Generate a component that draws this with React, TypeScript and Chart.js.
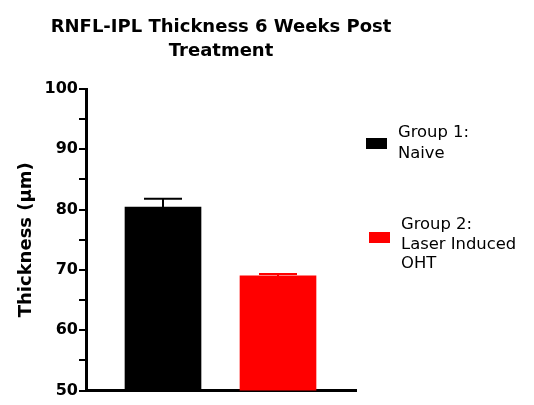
import React, { useEffect, useRef } from "react";
import { Chart, registerables } from "chart.js";

Chart.register(...registerables);

const titleLines = ["RNFL-IPL Thickness 6 Weeks Post", "Treatment"];
const categories = ["Group 1: Naive", "Group 2: Laser Induced OHT"];
const legendLines = [["Group 1:", "Naive"], ["Group 2:", "Laser Induced", "OHT"]];
const values = [80.4, 69.0];
const errors = [1.4, 0.3];
const colors = ["#000000", "#ff0000"];
const yAxisTitle = "Thickness (µm)";
const yMin = 50;
const yMax = 100;
const yStep = 5;
const yLabelStep = 10;

const FONT = '"DejaVu Sans", sans-serif';

const errorBarPlugin = {
  id: "errorBars",
  afterDatasetsDraw(chart: any) {
    const ctx = chart.ctx;
    const meta = chart.getDatasetMeta(0);
    const yScale = chart.scales.y;
    ctx.save();
    meta.data.forEach((bar: any, i: number) => {
      const x = Math.round(bar.x);
      const yTop = yScale.getPixelForValue(values[i] + errors[i]);
      ctx.strokeStyle = colors[i];
      ctx.lineWidth = 2;
      ctx.beginPath();
      ctx.moveTo(x, bar.y);
      ctx.lineTo(x, yTop);
      ctx.moveTo(x - 19, yTop);
      ctx.lineTo(x + 19, yTop);
      ctx.stroke();
    });
    ctx.restore();
  },
};

const legendLayout = [
  { box: [366, 138, 21, 11], textX: 398, baseline: 137, lineH: 21 },
  { box: [369, 232, 21, 11], textX: 401, baseline: 229, lineH: 19.7 },
];

const textPlugin = {
  id: "texts",
  afterDraw(chart: any) {
    const ctx = chart.ctx;
    const area = chart.chartArea;
    ctx.save();
    ctx.fillStyle = "#000";
    ctx.font = `bold 18px ${FONT}`;
    ctx.textAlign = "center";
    ctx.textBaseline = "alphabetic";
    const cx = (area.left + area.right) / 2;
    titleLines.forEach((t, i) => ctx.fillText(t, cx, 32 + i * 24));

    ctx.font = `16.4px ${FONT}`;
    ctx.textAlign = "left";
    legendLines.forEach((lines, i) => {
      const l = legendLayout[i];
      ctx.fillStyle = colors[i];
      ctx.fillRect(l.box[0], l.box[1], l.box[2], l.box[3]);
      ctx.fillStyle = "#000";
      lines.forEach((t, j) => ctx.fillText(t, l.textX, l.baseline + j * l.lineH));
    });
    ctx.restore();
  },
};

export default function App() {
  const ref = useRef<HTMLCanvasElement>(null);
  useEffect(() => {
    const canvas = ref.current!;
    const chart = new Chart(canvas, {
      type: "bar",
      data: {
        labels: categories,
        datasets: [
          {
            label: "Thickness",
            data: values.map((v, i) => ({ x: i + 1, y: v })),
            backgroundColor: colors,
            borderWidth: 0,
            barThickness: 76,
          },
        ],
      },
      options: {
        animation: false,
        responsive: false,
        devicePixelRatio: 1,
        layout: { padding: { left: 0, top: 89, right: 178, bottom: 14.5 } },
        plugins: {
          legend: { display: false },
          tooltip: { enabled: false },
          title: { display: false },
        },
        scales: {
          x: {
            type: "linear",
            offset: false,
            min: 1 - 77 / 115,
            max: 1 - 77 / 115 + 270 / 115,
            ticks: { display: false },
            grid: { display: false, offset: false },
            border: { display: true, color: "#000", width: 3 },
            afterFit(scale: any) {
              scale.height = 0;
            },
          },
          y: {
            type: "linear",
            min: yMin,
            max: yMax,
            ticks: {
              stepSize: yStep,
              padding: 1,
              color: "#000",
              font: { family: FONT, size: 16, weight: "bold" },
              callback: (v: any) => (Number(v) % yLabelStep === 0 ? String(v) : ""),
            },
            grid: {
              drawOnChartArea: false,
              drawTicks: true,
              tickLength: 7,
              lineWidth: 2,
              color: "#000",
            },
            border: { display: true, color: "#000", width: 3 },
            title: {
              display: true,
              text: yAxisTitle,
              color: "#000",
              font: { family: FONT, size: 18, weight: "bold" },
              padding: { top: 16, bottom: 0 },
            },
            afterFit(scale: any) {
              scale.width = 86;
            },
          },
        },
      },
      plugins: [errorBarPlugin, textPlugin],
    } as any);
    return () => chart.destroy();
  }, []);
  return (
    <div style={{ position: "fixed", left: 0, top: 0, width: 534, height: 405, background: "#fff" }}>
      <canvas ref={ref} width={534} height={405} style={{ width: 534, height: 405 }} />
    </div>
  );
}
